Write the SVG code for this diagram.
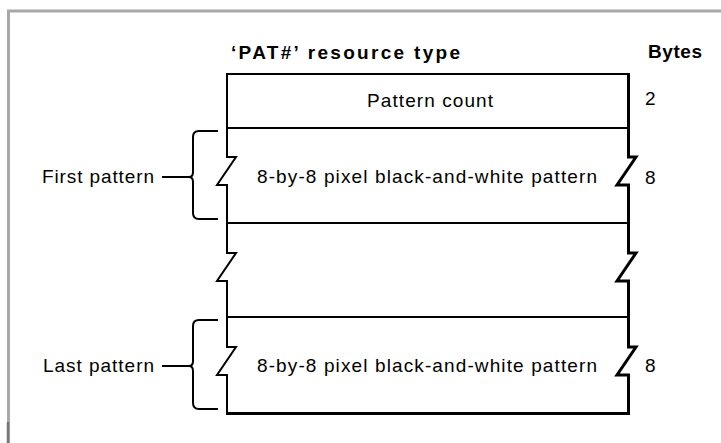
<svg xmlns="http://www.w3.org/2000/svg" width="721" height="443" viewBox="0 0 721 443">
  <style>
    .t { font-family: "Liberation Sans", Arial, sans-serif; font-size: 19px; fill: #000; }
    .b { font-weight: bold; }
    .ln { fill: none; stroke: #000; stroke-width: 2; stroke-linejoin: miter; }
    .edge { fill: none; stroke: #000; stroke-width: 3; stroke-linejoin: miter; }
    .frame { fill: none; stroke: #a8a8a8; stroke-width: 3; }
  </style>

  <rect width="721" height="443" fill="#fff"/>

  <!-- page frame -->
  <g id="frame">
    <path class="frame" d="M8.5,443 V11 H721"/>
    <path d="M8,422 V443" stroke="#777" stroke-width="2.5" fill="none"/>
  </g>

  <!-- column headings -->
  <g id="headings">
    <text class="t b" x="231" y="59" textLength="229" lengthAdjust="spacing">‘PAT#’ resource type</text>
    <text class="t b" x="648" y="58" textLength="54" lengthAdjust="spacing">Bytes</text>
  </g>

  <!-- resource layout box -->
  <g id="box">
    <!-- top and field separators -->
    <path class="ln" d="M227,74 H628"/>
    <path class="ln" d="M227,128 H628"/>
    <path class="ln" d="M227,223 H628"/>
    <path class="ln" d="M227,317 H628"/>
    <!-- left edge with break marks -->
    <path class="ln" d="M227,73 V157 H236 L217,185 H227 V253 H236 L217,281 H227 V347 H236 L217,375 H227 V413"/>
    <!-- right edge with break marks -->
    <path class="edge" d="M628.5,73 V157 H636 L617,185 H628.5 V253 H636 L617,281 H628.5 V347 H636 L617,375 H628.5 V415"/>
    <!-- bottom -->
    <path class="edge" d="M226,413.5 H630"/>
  </g>

  <!-- fields -->
  <g id="field-count">
    <text class="t" x="367" y="107" textLength="126" lengthAdjust="spacing">Pattern count</text>
    <text class="t" x="645" y="105">2</text>
  </g>

  <g id="field-first">
    <text class="t" x="257" y="183" textLength="340" lengthAdjust="spacing">8-by-8 pixel black-and-white pattern</text>
    <text class="t" x="645" y="184">8</text>
  </g>

  <g id="field-last">
    <text class="t" x="257" y="372" textLength="340" lengthAdjust="spacing">8-by-8 pixel black-and-white pattern</text>
    <text class="t" x="645" y="372">8</text>
  </g>

  <!-- side labels with braces -->
  <g id="label-first">
    <text class="t" x="42" y="183" textLength="112" lengthAdjust="spacing">First pattern</text>
  </g>
  <g id="label-last">
    <text class="t" x="43" y="372" textLength="111" lengthAdjust="spacing">Last pattern</text>
  </g>

  <g id="connectors">
    <path class="ln" d="M218,131 H199 Q193,131 193,137 V172 Q193,177 189,177 Q193,177 193,182 V213 Q193,219 199,219 H218"/>
    <path class="ln" d="M162,177 H190"/>
    <path class="ln" d="M218,320 H199 Q193,320 193,326 V361 Q193,366 189,366 Q193,366 193,371 V403 Q193,409 199,409 H218"/>
    <path class="ln" d="M162,366 H190"/>
  </g>
</svg>
